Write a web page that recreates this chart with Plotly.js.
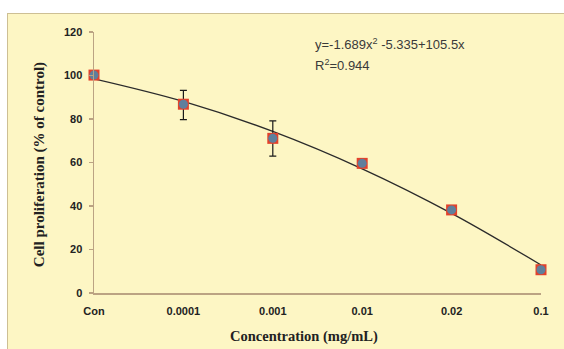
<!DOCTYPE html>
<html>
<head>
<meta charset="utf-8">
<script src="https://cdn.plot.ly/plotly-3.0.1.min.js"></script>
<style>
html,body{margin:0;padding:0;background:#ffffff;width:564px;height:349px;overflow:hidden;}
#chart{position:absolute;left:7px;top:13px;width:555px;height:334px;border:1px solid #cdbf94;background:#fdf6c4;}
</style>
</head>
<body>
<div id="chart"></div>
<script>
// Data
const categories = ["Con", "0.0001", "0.001", "0.01", "0.02", "0.1"];
const proliferation = [100.2, 86.8, 71.1, 59.6, 38.2, 10.7];
const errorPlus = [0, 6.4, 8.0, 0, 0, 2.0];
const errorMinus = [0, 7.1, 8.2, 0, 0, 2.0];
const trendValues = [98.5, 88.1, 74.3, 57.1, 36.6, 12.9];
const yTicks = [0, 20, 40, 60, 80, 100, 120];
const equationText = "y=-1.689x<sup>2</sup> -5.335+105.5x";
const r2Text = "R<sup>2</sup>=0.944";
const xTitle = "Concentration (mg/mL)";
const yTitle = "Cell proliferation (% of control)";

const axisColor = "#bba383";

const traces = [
  {
    x: categories, y: trendValues, type: "scatter", mode: "lines",
    line: {color: "#2b2b2b", width: 1.3, shape: "spline", smoothing: 1},
    cliponaxis: false, hoverinfo: "skip", showlegend: false
  },
  {
    x: categories, y: proliferation, type: "scatter", mode: "markers",
    marker: {symbol: "square", size: 11, color: "#e2422c"},
    error_y: {type: "data", symmetric: false, array: errorPlus, arrayminus: errorMinus,
              color: "#1a1a1a", thickness: 1.2, width: 3.5},
    cliponaxis: false, showlegend: false
  },
  {
    x: categories, y: proliferation, type: "scatter", mode: "markers",
    marker: {symbol: "circle", size: 9, color: "#5f7f9c"},
    cliponaxis: false, showlegend: false
  }
];

const layout = {
  width: 557, height: 336,
  margin: {l: 86, r: 24, t: 18, b: 57},
  paper_bgcolor: "#fdf6c4",
  plot_bgcolor: "#fdf6c4",
  showlegend: false,
  xaxis: {
    type: "category",
    range: [0, 5],
    showgrid: false, zeroline: false,
    showline: true, linecolor: axisColor, linewidth: 1.5,
    ticks: "", ticklabelstandoff: 7,
    tickfont: {family: "Liberation Sans, Arial, sans-serif", size: 11, color: "#222", weight: "bold"}
  },
  yaxis: {
    range: [0, 120],
    tickvals: yTicks,
    showgrid: false, zeroline: false,
    showline: true, linecolor: axisColor, linewidth: 1.5,
    ticks: "outside", ticklen: 4, tickcolor: axisColor, tickwidth: 1.5,
    ticklabelstandoff: 4,
    tickfont: {family: "Liberation Sans, Arial, sans-serif", size: 11, color: "#222", weight: "bold"}
  },
  annotations: [
    {xref: "paper", yref: "paper", x: 0.49, y: 0.955, xanchor: "left", yanchor: "middle",
     text: equationText, showarrow: false,
     font: {family: "Liberation Sans, Arial, sans-serif", size: 13, color: "#3a3a3a"}},
    {xref: "paper", yref: "paper", x: 0.49, y: 0.875, xanchor: "left", yanchor: "middle",
     text: r2Text, showarrow: false,
     font: {family: "Liberation Sans, Arial, sans-serif", size: 13, color: "#3a3a3a"}},
    {xref: "paper", yref: "paper", x: 0.47, y: -0.167, xanchor: "center", yanchor: "middle",
     text: xTitle, showarrow: false,
     font: {family: "Liberation Serif, Times New Roman, serif", size: 14.5, color: "#222", weight: "bold"}},
    {xref: "paper", yref: "paper", x: -0.123, y: 0.49, xanchor: "center", yanchor: "middle",
     text: yTitle, textangle: -90, showarrow: false,
     font: {family: "Liberation Serif, Times New Roman, serif", size: 15, color: "#222", weight: "bold"}}
  ]
};

Plotly.newPlot("chart", traces, layout, {displayModeBar: false, staticPlot: true});
</script>
</body>
</html>
